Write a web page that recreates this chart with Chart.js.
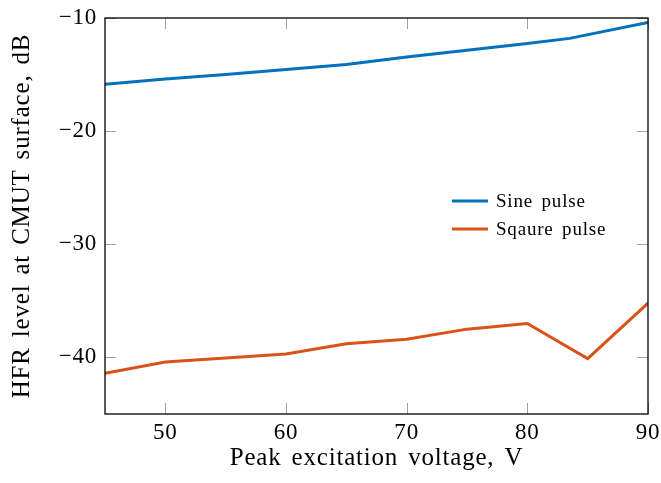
<!DOCTYPE html>
<html lang="en">
<head>
    <meta charset="UTF-8">
    <title>HFR level</title>
    <script src="https://cdn.jsdelivr.net/npm/chart.js"></script>
    <style>
        html, body { margin: 0; padding: 0; background: #fff; }
        #wrap { width: 661px; height: 483px; }
    </style>
</head>
<body>
    <div id="wrap"><canvas id="hfrChart" width="661" height="483"></canvas></div>
    <script>
        // values
        const sineX = [45, 50, 55, 60, 65, 70, 75, 80, 83.5, 90];
        const sineY = [-15.85, -15.4, -15.0, -14.55, -14.1, -13.45, -12.85, -12.25, -11.8, -10.4];
        const squareX = [45, 50, 60, 65, 70, 75, 80, 85, 90];
        const squareY = [-41.4, -40.4, -39.7, -38.8, -38.4, -37.5, -37.0, -40.1, -35.2];
        const seriesNames = ['Sine pulse', 'Sqaure pulse'];
        const seriesColors = ['#0072BD', '#D95319'];

        const serif = "'Liberation Serif', 'DejaVu Serif', serif";
        const toPoints = (xs, ys) => xs.map((x, i) => ({ x: x, y: ys[i] }));
        const onlyTens = scale => { scale.ticks = scale.ticks.filter(t => t.value % 10 === 0); };

        // the reference text is set a little looser than plain Times
        // (canvas resize wipes context state, so set it right before drawing)
        const spacing = {
            id: 'spacing',
            beforeDraw(chart) {
                chart.ctx.letterSpacing = '0.8px';
                chart.ctx.wordSpacing = '3px';
            }
        };

        // inward ticks on all four sides, frame and legend inside the plot
        const frame = {
            id: 'frame',
            afterDatasetsDraw(chart) {
                const ctx = chart.ctx;
                const a = chart.chartArea;
                const len = 11;
                ctx.save();
                ctx.strokeStyle = '#a0a0a0';
                ctx.lineWidth = 1;
                chart.scales.x.ticks.forEach(t => {
                    const px = Math.round(chart.scales.x.getPixelForValue(t.value)) + 0.5;
                    ctx.beginPath();
                    ctx.moveTo(px, a.bottom); ctx.lineTo(px, a.bottom - len);
                    ctx.moveTo(px, a.top); ctx.lineTo(px, a.top + len);
                    ctx.stroke();
                });
                chart.scales.y.ticks.forEach(t => {
                    const py = Math.round(chart.scales.y.getPixelForValue(t.value)) + 0.5;
                    ctx.beginPath();
                    ctx.moveTo(a.left, py); ctx.lineTo(a.left + len, py);
                    ctx.moveTo(a.right, py); ctx.lineTo(a.right - len, py);
                    ctx.stroke();
                });
                ctx.strokeStyle = '#000';
                ctx.lineWidth = 1.3;
                ctx.strokeRect(a.left, a.top, a.right - a.left, a.bottom - a.top);

                // legend
                ctx.font = '19px ' + serif;
                ctx.textBaseline = 'middle';
                ctx.fillStyle = '#000';
                chart.data.datasets.forEach((ds, i) => {
                    const y = 201 + i * 28;
                    ctx.strokeStyle = ds.borderColor;
                    ctx.lineWidth = 3;
                    ctx.beginPath();
                    ctx.moveTo(452, y); ctx.lineTo(488, y);
                    ctx.stroke();
                    ctx.fillText(ds.label, 496, y + 1);
                });
                ctx.restore();
            }
        };

        new Chart(document.getElementById('hfrChart'), {
            type: 'line',
            data: {
                datasets: [
                    { label: seriesNames[0], data: toPoints(sineX, sineY), borderColor: seriesColors[0], borderWidth: 3, pointRadius: 0, tension: 0 },
                    { label: seriesNames[1], data: toPoints(squareX, squareY), borderColor: seriesColors[1], borderWidth: 3, pointRadius: 0, tension: 0 }
                ]
            },
            options: {
                responsive: false,
                animation: false,
                layout: { padding: { left: 0, right: 13, top: 18, bottom: 0 } },
                plugins: { legend: { display: false }, tooltip: { enabled: false } },
                scales: {
                    x: {
                        type: 'linear',
                        min: 45, max: 90,
                        afterBuildTicks: onlyTens,
                        afterFit: s => { s.height = 69; s.paddingLeft = 0; s.paddingRight = 0; },
                        grid: { display: false, drawTicks: false },
                        border: { display: false },
                        ticks: { stepSize: 10, color: '#000', padding: 5, font: { family: serif, size: 23 } },
                        title: { display: true, text: 'Peak excitation voltage, V', color: '#000', padding: { top: 0, bottom: 10 }, font: { family: serif, size: 25 } }
                    },
                    y: {
                        min: -45, max: -10,
                        afterBuildTicks: onlyTens,
                        afterFit: s => { s.width = 105; s.paddingTop = 0; s.paddingBottom = 0; },
                        grid: { display: false, drawTicks: false },
                        border: { display: false },
                        ticks: {
                            stepSize: 10, color: '#000', padding: 8, font: { family: serif, size: 23 },
                            callback: v => String(v).replace('-', '\u2212')
                        },
                        title: { display: true, text: 'HFR level at CMUT surface, dB', color: '#000', padding: { top: 7, bottom: 7 }, font: { family: serif, size: 25 } }
                    }
                }
            },
            plugins: [spacing, frame]
        });
    </script>
</body>
</html>
